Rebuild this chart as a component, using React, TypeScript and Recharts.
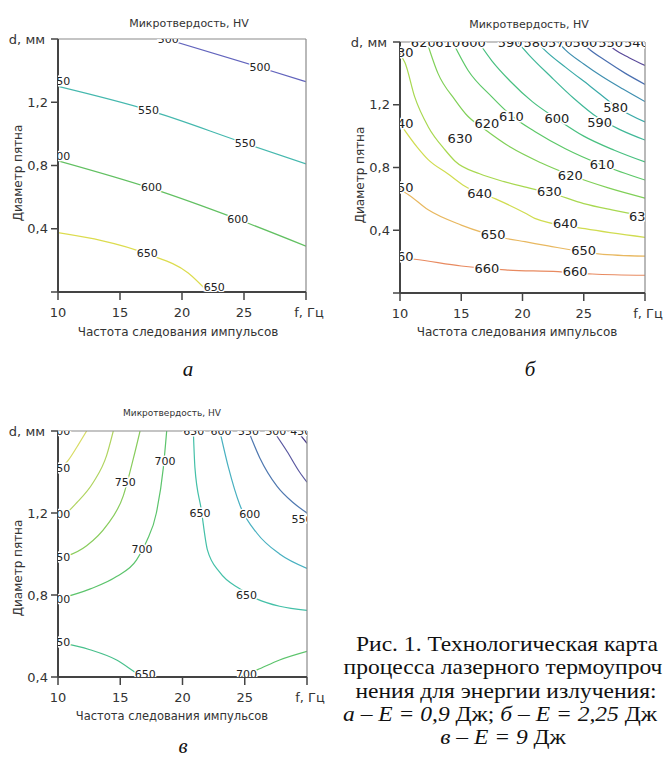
import { ComposedChart, Line, Scatter, XAxis, YAxis, ReferenceLine } from "recharts";

type Pt = [number, number];
type Lbl = [number, number, string];

const F_TICKS = [10, 15, 20, 25, 30];
const D_TICKS_AB = [0, 0.4, 0.8, 1.2, 1.6];
const D_TICKS_C = [0.4, 0.8, 1.2, 1.6];

// а – E = 0,9 Дж
const A500: Pt[] = [[18.7, 1.6], [26.3, 1.42], [30, 1.33]];
const A550: Pt[] = [[10, 1.3], [17.3, 1.15], [25.1, 0.94], [30, 0.81]];
const A600: Pt[] = [[10, 0.83], [17.55, 0.655], [24.5, 0.46], [30, 0.29]];
const A650: Pt[] = [[10, 0.375], [17.2, 0.24], [20.5, 0.12], [22.1, 0.0]];
const A_LABELS: Lbl[] = [
  [18.9, 1.6, "500"], [26.3, 1.42, "500"],
  [10.15, 1.33, "550"], [17.3, 1.15, "550"], [25.1, 0.94, "550"],
  [10.15, 0.86, "600"], [17.55, 0.66, "600"], [24.5, 0.46, "600"],
  [17.2, 0.245, "650"], [22.6, 0.03, "650"],
];

// б – E = 2,25 Дж
const B550: Pt[] = [[26.8, 1.6], [27.55, 1.55], [28.7, 1.5], [30, 1.45]];
const B560: Pt[] = [[24.8, 1.6], [25.35, 1.56], [26.8, 1.48], [28.4, 1.4], [30, 1.33]];
const B570: Pt[] = [[22.9, 1.6], [23.5, 1.55], [25, 1.46], [26.5, 1.38], [28.2, 1.3], [30, 1.22]];
const B580: Pt[] = [[21.2, 1.6], [21.8, 1.55], [23.5, 1.44], [25.5, 1.32], [27.8, 1.18], [30, 1.09]];
const B590: Pt[] = [[19.6, 1.6], [20.5, 1.52], [22.3, 1.38], [24.2, 1.24], [26.2, 1.115], [28, 1.04], [30, 0.975]];
const B600: Pt[] = [[16.4, 1.6], [17.5, 1.48], [19, 1.35], [20.8, 1.22], [22.8, 1.11], [25, 1.0], [27.5, 0.91], [30, 0.835]];
const B610: Pt[] = [[14.3, 1.6], [15.55, 1.42], [17.5, 1.25], [19.1, 1.13], [21, 1.03], [23.5, 0.92], [26.5, 0.816], [30, 0.72]];
const B620: Pt[] = [[12.2, 1.6], [13.1, 1.4], [14.5, 1.23], [15.5, 1.13], [16.8, 1.05], [19, 0.93], [21.5, 0.83], [23.9, 0.752], [27, 0.67], [30, 0.605]];
const B630: Pt[] = [[10, 1.52], [10.4, 1.47], [11.2, 1.25], [12.3, 1.06], [13.7, 0.91], [14.5, 0.84], [16.5, 0.76], [18.5, 0.71], [20.5, 0.67], [22.4, 0.635], [25, 0.57], [27.3, 0.53], [30, 0.49]];
const B640: Pt[] = [[10, 1.08], [11.4, 0.93], [12.3, 0.85], [13.9, 0.76], [15.3, 0.68], [17.8, 0.6], [20.2, 0.51], [21, 0.476], [25.1, 0.41], [30, 0.355]];
const B650: Pt[] = [[10, 0.66], [10.55, 0.635], [12.3, 0.53], [15, 0.433], [18.6, 0.349], [20.2, 0.327], [22.1, 0.3], [26.2, 0.25], [30, 0.235]];
const B660: Pt[] = [[10, 0.225], [11.2, 0.215], [15, 0.172], [18.6, 0.147], [22.9, 0.136], [25.7, 0.121], [30, 0.113]];
const B_LABELS: Lbl[] = [
  [11.9, 1.6, "620"], [13.9, 1.6, "610"], [16.0, 1.6, "600"], [19.0, 1.6, "590"], [21.1, 1.6, "580"],
  [23.1, 1.6, "570"], [25.1, 1.6, "560"], [27.2, 1.6, "550"], [29.3, 1.6, "540"],
  [10.1, 1.53, "630"], [10.1, 1.08, "640"], [10.1, 0.675, "650"], [10.1, 0.23, "660"],
  [17.1, 1.08, "620"], [19.1, 1.124, "610"], [22.8, 1.113, "600"], [26.3, 1.09, "590"], [27.6, 1.18, "580"],
  [14.9, 0.986, "630"], [16.5, 0.635, "640"], [17.6, 0.37, "650"], [17.1, 0.157, "660"],
  [26.5, 0.816, "610"], [23.9, 0.752, "620"], [22.2, 0.646, "630"], [23.5, 0.444, "640"],
  [25, 0.274, "650"], [24.3, 0.136, "660"], [29.7, 0.49, "630"],
];

// в – E = 9 Дж
const C850: Pt[] = [[10, 1.405], [10.8, 1.455], [11.6, 1.53], [12.3, 1.6]];
const C800: Pt[] = [[10, 1.18], [10.56, 1.195], [11.5, 1.25], [12.84, 1.35], [13.9, 1.48], [14.44, 1.6]];
const C750: Pt[] = [[10, 0.98], [10.7, 0.99], [12.3, 1.04], [13.9, 1.138], [15.25, 1.285], [16.05, 1.465], [16.59, 1.6]];
const C700L: Pt[] = [[10, 0.78], [12.6, 0.83], [14.7, 0.89], [16.3, 0.97], [17.1, 1.06], [17.9, 1.2], [18.46, 1.42], [18.73, 1.6]];
const C650L: Pt[] = [[10, 0.57], [12.57, 0.533], [14.71, 0.483], [16.32, 0.418], [16.8, 0.4]];
const C700R: Pt[] = [[24.6, 0.4], [26, 0.435], [27.8, 0.483], [30, 0.525]];
const C650R: Pt[] = [[20.87, 1.6], [21.0, 1.42], [21.5, 1.22], [22.0, 1.02], [23.0, 0.91], [24.6, 0.83], [26.0, 0.78], [27.8, 0.745], [30, 0.725]];
const C600: Pt[] = [[23.0, 1.6], [23.7, 1.42], [24.6, 1.24], [26.0, 1.1], [27.8, 1.0], [30, 0.93]];
const C550: Pt[] = [[25.3, 1.6], [26.2, 1.47], [27.6, 1.33], [28.9, 1.25], [30, 1.2]];
const C500: Pt[] = [[27.3, 1.6], [28.4, 1.5], [29.4, 1.4], [30, 1.35]];
const C450: Pt[] = [[29.2, 1.6], [29.6, 1.57], [30, 1.54]];
const C_LABELS: Lbl[] = [
  [10.15, 1.6, "900"],
  [10.15, 1.415, "850"], [10.15, 1.195, "800"], [10.15, 0.985, "750"], [10.15, 0.78, "700"], [10.15, 0.57, "650"],
  [15.4, 1.35, "750"], [18.6, 1.45, "700"], [16.75, 1.02, "700"],
  [21.4, 1.2, "650"], [25.15, 0.8, "650"], [17.0, 0.41, "650"], [25.15, 0.41, "700"],
  [25.4, 1.195, "600"], [29.6, 1.17, "550"],
  [20.9, 1.6, "650"], [23.1, 1.6, "600"], [25.3, 1.6, "550"], [27.5, 1.6, "500"], [29.5, 1.6, "450"],
];

const CAPTION = [
  "Рис. 1. Технологическая карта",
  "процесса лазерного термоупроч",
  "нения для энергии излучения:",
];

const COLORS_A: Record<string, string> = { a500: "#6264bd", a550: "#45b8ae", a600: "#62c062", a650: "#dcdc4e" };
const COLORS_B: Record<string, string> = {
  b550: "#5a4a9a", b560: "#4a6fb0", b570: "#3f8fb0", b580: "#3aaaa8", b590: "#40b898", b600: "#48c080",
  b610: "#5cc868", b620: "#80d058", b630: "#a8d850", b640: "#d0dc50", b650: "#e8b860", b660: "#e88a60",
};
const COLORS_C: Record<string, string> = {
  c850: "#d8dc64", c800: "#b0d460", c750: "#88cc5c", c700l: "#5cc46c", c650l: "#48c08c", c700r: "#5cc46c",
  c650r: "#44c0a8", c600: "#48b0c0", c550: "#4f78b0", c500: "#5a58a0", c450: "#4a3a8a",
};

const SERIES_A: [string, Pt[]][] = [["a500", A500], ["a550", A550], ["a600", A600], ["a650", A650]];
const SERIES_B: [string, Pt[]][] = [
  ["b550", B550], ["b560", B560], ["b570", B570], ["b580", B580], ["b590", B590], ["b600", B600],
  ["b610", B610], ["b620", B620], ["b630", B630], ["b640", B640], ["b650", B650], ["b660", B660],
];
const SERIES_C: [string, Pt[]][] = [
  ["c850", C850], ["c800", C800], ["c750", C750], ["c700l", C700L], ["c650l", C650L], ["c700r", C700R],
  ["c650r", C650R], ["c600", C600], ["c550", C550], ["c500", C500], ["c450", C450],
];

const sans = "'DejaVu Sans', Verdana, sans-serif";
const serif = "'Liberation Serif', 'Times New Roman', serif";

interface PanelProps {
  series: [string, Pt[]][];
  colors: Record<string, string>;
  labels: Lbl[];
  yDomain: [number, number];
  yTicks: number[];
  width: number;
  height: number;
  margin: { top: number; right: number; bottom: number; left: number };
  labelSize: number;
}

function ContourPanel({ series, colors, labels, yDomain, yTicks, width, height, margin, labelSize }: PanelProps) {
  const top = yDomain[1];
  const renderLabel = (props: any) => (
    <text
      x={props.cx}
      y={props.cy}
      textAnchor="middle"
      dominantBaseline="central"
      fontSize={labelSize}
      fontFamily={sans}
      fill="#222"
      stroke="#fff"
      strokeWidth={3}
      paintOrder="stroke"
    >
      {props.payload.t}
    </text>
  );
  const xTick = ({ x, y, payload }: any) => (
    <text x={payload.value === 30 ? x + 3 : x} y={y} dy="0.71em" textAnchor="middle" fontSize={13} fontFamily={sans} fill="#333">
      {payload.value === 30 ? "f, Гц" : payload.value}
    </text>
  );
  const yTick = ({ x, y, payload }: any) => {
    const v = payload.value;
    const txt = v === top ? "d, мм" : v === 0 ? "" : v.toFixed(1).replace(".", ",");
    return (
      <text x={v === top ? x - 3 : x} y={y} dy="0.36em" textAnchor="end" fontSize={13} fontFamily={sans} fill="#333">
        {txt}
      </text>
    );
  };
  return (
    <ComposedChart width={width} height={height} margin={margin}>
      {series.map(([key, pts]) => (
        <Line
          key={key}
          data={pts.map(([f, d]) => ({ f, d }))}
          dataKey="d"
          type="monotone"
          stroke={colors[key]}
          strokeWidth={1.2}
          dot={false}
          activeDot={false}
          isAnimationActive={false}
        />
      ))}
      <Scatter data={labels.map(([f, d, t]) => ({ f, d, t }))} dataKey="d" shape={renderLabel} isAnimationActive={false} />
      <ReferenceLine y={top} stroke="#8a8a8a" strokeWidth={1.2} />
      <ReferenceLine x={30} stroke="#8a8a8a" strokeWidth={1.2} />
      <XAxis
        type="number"
        dataKey="f"
        domain={[10, 30]}
        ticks={F_TICKS}
        allowDataOverflow
        height={30}
        tickSize={8}
        tickMargin={8}
        axisLine={{ stroke: "#444", strokeWidth: 2 }}
        tickLine={{ stroke: "#444", strokeWidth: 1.5 }}
        tick={xTick}
        interval={0}
      />
      <YAxis
        type="number"
        dataKey="d"
        domain={yDomain}
        ticks={yTicks}
        allowDataOverflow
        width={40}
        tickSize={7}
        tickMargin={3}
        axisLine={{ stroke: "#444", strokeWidth: 2 }}
        tickLine={{ stroke: "#444", strokeWidth: 1.5 }}
        tick={yTick}
        interval={0}
      />
    </ComposedChart>
  );
}

const abs = (left: number, top: number): React.CSSProperties => ({ position: "absolute", left, top });

function CenterText({ x, y, size, children, rotate, font = sans, italic = false, color = "#333" }: any) {
  return (
    <div
      style={{
        position: "absolute",
        left: x,
        top: y,
        transform: `translate(-50%, -50%)${rotate ? " rotate(-90deg)" : ""}`,
        whiteSpace: "nowrap",
        fontFamily: font,
        fontSize: size,
        fontStyle: italic ? "italic" : "normal",
        color,
        lineHeight: 1,
      }}
    >
      {children}
    </div>
  );
}

function CaptionLine({ cx, top, children }: any) {
  return (
    <div
      style={{
        position: "absolute",
        left: cx,
        top,
        transform: "translate(-50%, 0) scaleX(1.12)",
        whiteSpace: "nowrap",
        fontFamily: serif,
        fontSize: 21,
        lineHeight: "23px",
        color: "#111",
      }}
    >
      {children}
    </div>
  );
}

export default function App() {
  return (
    <div style={{ position: "absolute", left: 0, top: 0, width: 665, height: 758, overflow: "hidden", background: "#fff" }}>
      <div style={abs(0, 0)}>
        <ContourPanel
          series={SERIES_A}
          colors={COLORS_A}
          labels={A_LABELS}
          yDomain={[0, 1.6]}
          yTicks={D_TICKS_AB}
          width={340}
          height={345}
          margin={{ top: 39, right: 34, bottom: 23, left: 18 }}
          labelSize={11}
        />
      </div>
      <div style={abs(330, 0)}>
        <ContourPanel
          series={SERIES_B}
          colors={COLORS_B}
          labels={B_LABELS}
          yDomain={[0, 1.6]}
          yTicks={D_TICKS_AB}
          width={335}
          height={345}
          margin={{ top: 42, right: 20, bottom: 22, left: 30 }}
          labelSize={13}
        />
      </div>
      <div style={abs(0, 380)}>
        <ContourPanel
          series={SERIES_C}
          colors={COLORS_C}
          labels={C_LABELS}
          yDomain={[0.4, 1.6]}
          yTicks={D_TICKS_C}
          width={340}
          height={330}
          margin={{ top: 51, right: 33, bottom: 3, left: 18 }}
          labelSize={11}
        />
      </div>

      <CenterText x={189} y={23} size={11}>Микротвердость, HV</CenterText>
      <CenterText x={18} y={173} size={12} rotate>Диаметр пятна</CenterText>
      <CenterText x={178} y={332} size={12}>Частота следования импульсов</CenterText>

      <CenterText x={529} y={24} size={11}>Микротвердость, HV</CenterText>
      <CenterText x={360} y={175} size={12} rotate>Диаметр пятна</CenterText>
      <CenterText x={517} y={332} size={12}>Частота следования импульсов</CenterText>

      <CenterText x={172} y={413} size={9}>Микротвердость, HV</CenterText>
      <CenterText x={18} y={568} size={12} rotate>Диаметр пятна</CenterText>
      <CenterText x={172} y={717} size={11.5}>Частота следования импульсов</CenterText>

      <CenterText x={188} y={369} size={21} font={serif} italic color="#111">а</CenterText>
      <CenterText x={530} y={369} size={21} font={serif} italic color="#111">б</CenterText>
      <CenterText x={183} y={746} size={21} font={serif} italic color="#111">в</CenterText>

      <CaptionLine cx={507} top={633}>{CAPTION[0]}</CaptionLine>
      <CaptionLine cx={503} top={656.3}>{CAPTION[1]}</CaptionLine>
      <CaptionLine cx={506} top={679.6}>{CAPTION[2]}</CaptionLine>
      <CaptionLine cx={500} top={702.9}>
        <i>а – E = 0,9</i> Дж; <i>б – E = 2,25</i> Дж
      </CaptionLine>
      <CaptionLine cx={503} top={726.2}>
        <i>в – E = 9</i> Дж
      </CaptionLine>
    </div>
  );
}
